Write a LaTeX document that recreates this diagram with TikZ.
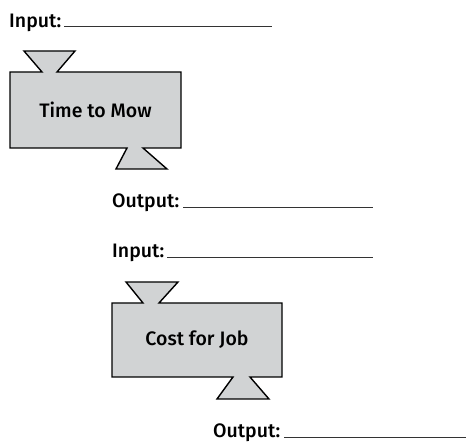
\documentclass[tikz,border=0pt]{standalone}
\usepackage{fontspec}
\setmainfont{Fira Sans}[UprightFont=* Medium]
\begin{document}
\begin{tikzpicture}[x=1pt,y=-1pt,
  machine/.style={fill=boxgray,draw=black,line width=1.4pt,line join=miter},
  label/.style={anchor=base west,inner sep=0pt,font=\fontsize{19.5}{23}\selectfont},
  title/.style={inner sep=0pt,font=\fontsize{19.5}{23}\selectfont},
  blank/.style={line width=0.9pt,draw=black!80}]
\definecolor{boxgray}{HTML}{D1D3D4}
\useasboundingbox (0,0) rectangle (466,443);

% first machine: Time to Mow
\node[label] (in1) at (9,28) {Input:};
\coordinate (in1end) at (272,26);
\draw[blank] ([xshift=3pt,yshift=2pt]in1.base east) -- (in1end);
\draw[machine] (10,72) -- (42,72) -- (24,51) -- (75,51) -- (57,72) -- (181,72)
  -- (181,148) -- (143,148) -- (167,169) -- (116,169) -- (127,148) -- (10,148) -- cycle;
\node[title] (m1) at (95.5,110) {Time to Mow};
\node[label] (out1) at (112,208) {Output:};
\coordinate (out1end) at (373,207);
\draw[blank] ([xshift=4pt,yshift=1pt]out1.base east) -- (out1end);

% second machine: Cost for Job
\node[label] (in2) at (112,258) {Input:};
\coordinate (in2end) at (373,257);
\draw[blank] ([xshift=3pt,yshift=1pt]in2.base east) -- (in2end);
\draw[machine] (112,303) -- (143,303) -- (126,282) -- (178,282) -- (159,303) -- (282,303)
  -- (282,377) -- (250,377) -- (269,399) -- (217,399) -- (233,377) -- (112,377) -- cycle;
\node[title] (m2) at (197,340) {Cost for Job};
\node[label] (out2) at (213,438) {Output:};
\coordinate (out2end) at (466,437);
\draw[blank] ([xshift=4pt,yshift=1pt]out2.base east) -- (out2end);
\end{tikzpicture}
\end{document}
